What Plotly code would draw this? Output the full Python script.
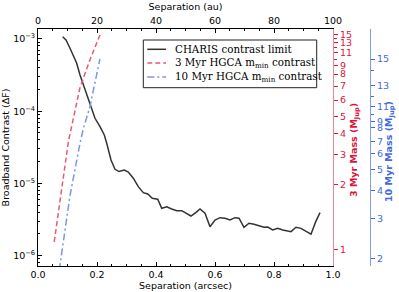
import plotly.graph_objects as go

# ---------------- data ----------------
charis_sep = [0.0837, 0.0949, 0.1085, 0.1197, 0.1312, 0.1424, 0.1593, 0.1763, 0.1932, 0.2102,
              0.2247, 0.2329, 0.2383, 0.2475, 0.2610, 0.2746, 0.2925, 0.3061, 0.3231, 0.3400,
              0.3569, 0.3719, 0.3875, 0.4058, 0.4193, 0.4363, 0.4532, 0.4702, 0.4871, 0.5041,
              0.5186, 0.5346, 0.5492, 0.5661, 0.5831, 0.6000, 0.6169, 0.6339, 0.6508, 0.6678,
              0.6814, 0.6983, 0.7153, 0.7322, 0.7492, 0.7661, 0.7786, 0.7956, 0.8125, 0.8295,
              0.8576, 0.8746, 0.8915, 0.9085, 0.9254, 0.9414, 0.9560]
charis_contrast = [1.076e-3, 9.68e-4, 7.43e-4, 6.00e-4, 4.61e-4, 3.18e-4, 1.97e-4, 1.29e-4, 7.98e-5, 6.11e-5,
                   4.69e-5, 3.60e-5, 2.90e-5, 2.11e-5, 1.57e-5, 1.46e-5, 1.53e-5, 1.44e-5, 1.18e-5, 9.02e-6,
                   7.45e-6, 7.14e-6, 6.24e-6, 6.04e-6, 4.53e-6, 4.76e-6, 4.43e-6, 4.20e-6, 4.20e-6, 3.86e-6,
                   3.54e-6, 3.94e-6, 4.43e-6, 3.86e-6, 2.52e-6, 3.12e-6, 3.36e-6, 3.30e-6, 3.12e-6, 3.36e-6,
                   3.30e-6, 2.47e-6, 2.81e-6, 2.72e-6, 2.60e-6, 2.47e-6, 2.49e-6, 2.27e-6, 2.39e-6, 2.27e-6,
                   2.15e-6, 2.47e-6, 2.39e-6, 2.15e-6, 1.98e-6, 2.96e-6, 3.94e-6]

hgca3_sep = [0.055, 0.080, 0.103, 0.142, 0.176, 0.210]
hgca3_contrast = [1.55e-6, 9.0e-6, 3.8e-5, 2.09e-4, 5.13e-4, 1.135e-3]

hgca10_sep = [0.072, 0.108, 0.142, 0.154, 0.176, 0.191, 0.210]
hgca10_contrast = [6.3e-7, 6.6e-6, 3.55e-5, 5.8e-5, 1.15e-4, 2.31e-4, 5.3e-4]

series_names = ["CHARIS contrast limit",
                "3 Myr HGCA m<sub>min</sub> contrast",
                "10 Myr HGCA m<sub>min</sub> contrast"]

# mass-axis ticks: mass label -> equivalent contrast
mass3_labels = ["1", "2", "3", "4", "5", "6", "7", "8", "9", "11", "13", "15"]
mass3_contrast = [1.225e-6, 9.73e-6, 2.50e-5, 4.84e-5, 8.39e-5, 1.429e-4, 2.23e-4, 3.27e-4,
                  4.33e-4, 6.46e-4, 8.89e-4, 1.148e-3]
mass3_minor_contrast = [5.28e-4, 7.60e-4, 1.014e-3]

mass10_labels = ["2", "3", "4", "5", "6", "7", "8", "9", "11", "13", "15"]
mass10_contrast = [9.08e-7, 3.22e-6, 7.87e-6, 1.535e-5, 2.56e-5, 3.84e-5, 5.86e-5, 7.10e-5,
                   1.156e-4, 2.29e-4, 5.28e-4]
mass10_minor_contrast = [9.08e-5, 1.589e-4, 3.61e-4]

contrast_ticks = [1e-6, 1e-5, 1e-4, 1e-3]
contrast_ticktext = ["10<sup>−6</sup>", "10<sup>−5</sup>", "10<sup>−4</sup>", "10<sup>−3</sup>"]

# ---------------- styling ----------------
BLACK = "#333333"
RED_LINE = "#e65a76"
RED = "#dc143c"
RED_AXIS = "#e8899b"
BLUE_LINE = "#7a96ea"
BLUE = "#4169e1"
BLUE_AXIS = "#7b9cf0"
DASH3 = "5px,3px"
DASH10 = "7px,3px,2px,3px"

W, H = 399, 292
ML, MR, MT, MB = 38, 29, 29, 26
PW, PH = W - ML - MR, H - MT - MB


def px(xp):
    return (xp - ML) / PW


def py(yp):
    return (H - MB - yp) / PH


yrange = [-6.143, -2.862]
minor_log = [m * 10 ** e for e in range(-7, -2) for m in range(2, 10)]

fig = go.Figure()
fig.add_trace(go.Scatter(x=charis_sep, y=charis_contrast, mode="lines",
                         line=dict(color=BLACK, width=1.5), name=series_names[0], showlegend=False))
fig.add_trace(go.Scatter(x=hgca3_sep, y=hgca3_contrast, mode="lines",
                         line=dict(color=RED_LINE, width=1.5, dash=DASH3), name=series_names[1],
                         showlegend=False))
fig.add_trace(go.Scatter(x=hgca10_sep, y=hgca10_contrast, mode="lines",
                         line=dict(color=BLUE_LINE, width=1.5, dash=DASH10), name=series_names[2],
                         showlegend=False))
# invisible traces to bind secondary axes
fig.add_trace(go.Scatter(x=[None], y=[None], xaxis="x2", yaxis="y", showlegend=False, hoverinfo="skip"))
fig.add_trace(go.Scatter(x=[None], y=[None], xaxis="x", yaxis="y2", showlegend=False, hoverinfo="skip"))
fig.add_trace(go.Scatter(x=[None], y=[None], xaxis="x", yaxis="y3", showlegend=False, hoverinfo="skip"))

tickfont = dict(family="DejaVu Sans", size=9.5, color="black")
xdom = [0, 295 / PW]

fig.update_layout(
    width=W, height=H,
    margin=dict(l=ML, r=MR, t=MT, b=MB),
    paper_bgcolor="white", plot_bgcolor="white",
    font=dict(family="DejaVu Sans", size=9.5, color="black"),
    showlegend=False,
    xaxis=dict(domain=xdom, range=[0, 1], dtick=0.2, tickformat=".1f", automargin=False,
               ticks="inside", ticklen=4, tickcolor="black", showgrid=False, zeroline=False,
               showline=True, linecolor="black", linewidth=1, tickfont=tickfont,
               minor=dict(dtick=0.05, ticks="inside", ticklen=2, tickcolor="black"),
               title=dict(text="Separation (arcsec)", standoff=2, font=dict(size=9.5))),
    xaxis2=dict(overlaying="x", side="top", anchor="y", range=[0, 100], dtick=20, automargin=False,
                ticks="inside", ticklen=4, tickcolor="black", showgrid=False, zeroline=False,
                showline=True, linecolor="black", linewidth=1, tickfont=tickfont,
                minor=dict(dtick=5, ticks="inside", ticklen=2, tickcolor="black"),
                title=dict(text="Separation (au)", standoff=2, font=dict(size=9.5))),
    yaxis=dict(type="log", range=yrange, tickmode="array", tickvals=contrast_ticks, automargin=False,
               ticktext=contrast_ticktext, ticks="inside", ticklen=4, tickcolor="black",
               showgrid=False, zeroline=False, showline=True, linecolor="black", linewidth=1,
               tickfont=tickfont,
               minor=dict(tickmode="array", tickvals=minor_log, ticks="inside", ticklen=2, tickcolor="black"),
               title=dict(text="Broadband Contrast (ΔF)", standoff=2, font=dict(size=9.5))),
    yaxis2=dict(type="log", range=yrange, overlaying="y", side="right", anchor="x", automargin=False,
                tickmode="array", tickvals=mass3_contrast, ticktext=mass3_labels,
                ticks="outside", ticklen=4, tickcolor=RED, showgrid=False, zeroline=False,
                showline=True, linecolor=RED_AXIS, linewidth=1.2,
                tickfont=dict(family="DejaVu Sans", size=9.5, color=RED),
                minor=dict(tickmode="array", tickvals=mass3_minor_contrast, ticks="outside",
                           ticklen=2.5, tickcolor=RED)),
    yaxis3=dict(type="log", range=yrange, overlaying="y", side="right", anchor="free", position=1.0,
                automargin=False,
                tickmode="array", tickvals=mass10_contrast, ticktext=mass10_labels,
                ticks="outside", ticklen=4, tickcolor=BLUE, showgrid=False, zeroline=False,
                showline=True, linecolor=BLUE_AXIS, linewidth=1.2,
                tickfont=dict(family="DejaVu Sans", size=9.5, color=BLUE),
                minor=dict(tickmode="array", tickvals=mass10_minor_contrast, ticks="outside",
                           ticklen=2.5, tickcolor=BLUE)),
)

# right-axis titles
fig.add_annotation(x=px(354), y=py(150), xref="paper", yref="paper", showarrow=False,
                   text="<b>3 Myr Mass (M<sub>Jup</sub>)</b>", textangle=-90,
                   font=dict(family="DejaVu Sans", size=9.5, color=RED), xanchor="center", yanchor="middle")
fig.add_annotation(x=px(389), y=py(152), xref="paper", yref="paper", showarrow=False,
                   text="<b>10 Myr Mass (M<sub>Jup</sub>)</b>", textangle=-90,
                   font=dict(family="DejaVu Sans", size=9.5, color=BLUE), xanchor="center", yanchor="middle")

# legend (box, samples, labels)
fig.add_shape(type="rect", xref="paper", yref="paper", x0=px(143.3), x1=px(316.7), y0=py(87.7), y1=py(40),
              line=dict(color="#222222", width=1), fillcolor="white", layer="above")
rows = [49.3, 63.0, 77.0]
colors = [BLACK, RED_LINE, BLUE_LINE]
dashes = ["solid", DASH3, DASH10]
for name, ry, c, d in zip(series_names, rows, colors, dashes):
    fig.add_shape(type="line", xref="paper", yref="paper", x0=px(147.3), x1=px(166), y0=py(ry), y1=py(ry),
                  line=dict(color=c, width=1.5, dash=d), layer="above")
    fig.add_annotation(x=px(173.3), y=py(ry), xref="paper", yref="paper", showarrow=False, text=name,
                       font=dict(family="DejaVu Serif", size=10.3, color="black"),
                       xanchor="left", yanchor="middle")

fig.write_html("out.html", config={"displayModeBar": False},
               post_script="document.body.style.margin='0';")
